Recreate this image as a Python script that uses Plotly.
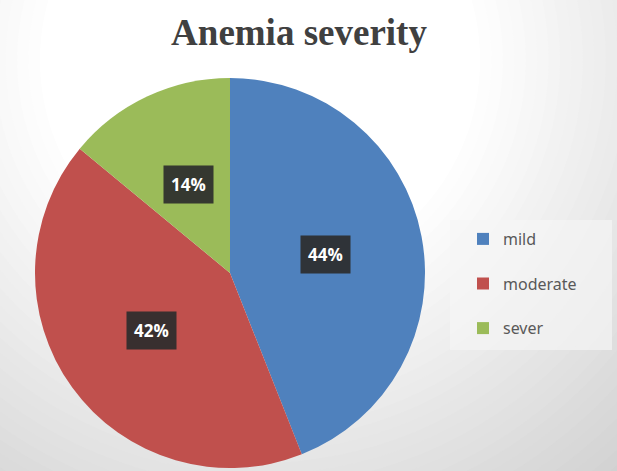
import math
import plotly.graph_objects as go

# ---- data ----
categories = ["mild", "moderate", "sever"]
values = [44, 42, 14]
colors = ["#4F81BD", "#C0504D", "#9BBB59"]
title_text = "Anemia severity"

W, H = 617, 471

# pie domain (pixels) -> paper
pie_left, pie_right = 35, 425
pie_top, pie_bottom = 78, 468
dom_x = [pie_left / W, pie_right / W]
dom_y = [1 - pie_bottom / H, 1 - pie_top / H]

fig = go.Figure()
fig.add_trace(go.Pie(
    labels=[c + "<br>&nbsp;" for c in categories],
    values=values,
    sort=False,
    direction="clockwise",
    rotation=0,
    marker=dict(colors=colors, line=dict(width=0)),
    textinfo="none",
    hovertemplate="%{customdata}: %{percent}<extra></extra>",
    customdata=categories,
    domain=dict(x=dom_x, y=dom_y),
    showlegend=True,
))

# ---- percentage labels placed at slice mid-angles ----
total = sum(values)
cx = (dom_x[0] + dom_x[1]) / 2
cy = (dom_y[0] + dom_y[1]) / 2
r_px = min((dom_x[1] - dom_x[0]) * W, (dom_y[1] - dom_y[0]) * H) / 2
annotations = []
cum = 0
for v in values:
    mid = (cum + v / 2) / total * 2 * math.pi
    cum += v
    ax = cx + 0.5 * r_px * math.sin(mid) / W
    ay = cy + 0.5 * r_px * math.cos(mid) / H
    annotations.append(dict(
        x=ax, y=ay, xref="paper", yref="paper",
        xanchor="center", yanchor="middle",
        text=f"<b>{round(v / total * 100)}%</b>",
        showarrow=False,
        font=dict(family="Open Sans", size=17, color="white"),
        bgcolor="rgba(45,45,45,0.92)",
        borderpad=7,
    ))

# ---- soft radial background ----
shapes = []
gcx, gcy = 260, 60
N = 36
d_max, d_min = 620, 220
for i in range(N):
    d = d_max - (d_max - d_min) * i / (N - 1)
    f = (d - d_min) / (d_max - d_min)
    g = int(round(255 - f * (255 - 200)))
    shapes.append(dict(
        type="circle", xref="paper", yref="paper", layer="below",
        x0=(gcx - d) / W, x1=(gcx + d) / W,
        y0=1 - (gcy + d) / H, y1=1 - (gcy - d) / H,
        fillcolor=f"rgb({g},{g},{g})", line=dict(width=0),
    ))

# legend panel
shapes.append(dict(
    type="rect", xref="paper", yref="paper", layer="below",
    x0=450 / W, x1=612 / W, y0=1 - 350 / H, y1=1 - 220 / H,
    fillcolor="rgba(246,246,246,0.65)", line=dict(width=0),
))

fig.update_layout(
    width=W, height=H,
    margin=dict(l=0, r=0, t=0, b=0),
    paper_bgcolor="rgb(200,200,200)",
    title=dict(
        text="<b>" + title_text + "</b>",
        x=299 / W, xanchor="center",
        y=1 - 32 / H, yanchor="middle",
        font=dict(family="Liberation Serif", size=37, color="#404040"),
    ),
    legend=dict(
        x=463 / W, xanchor="left",
        y=1 - 222 / H, yanchor="top",
        valign="top",
        bgcolor="rgba(0,0,0,0)",
        font=dict(family="Noto Sans", size=16, color="#595959"),
        itemwidth=30,
    ),
    annotations=annotations,
    shapes=shapes,
)

fig.write_html(
    "out.html",
    config={"displayModeBar": False},
    post_script="document.body.style.margin='0';",
)
